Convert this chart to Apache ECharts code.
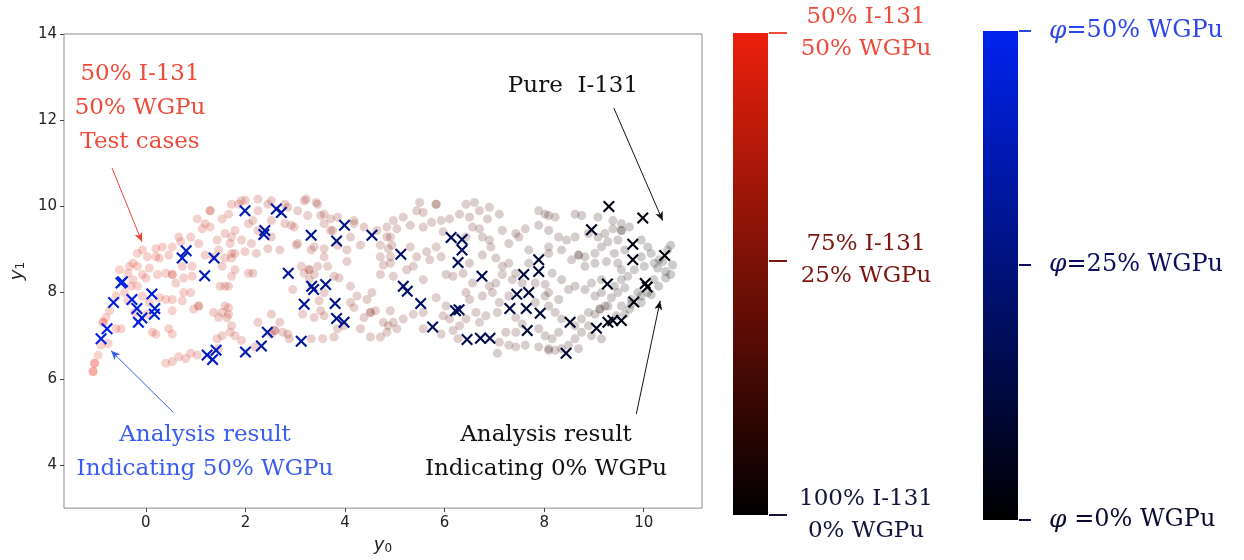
<!DOCTYPE html>
<html>
<head>
<meta charset="utf-8">
<script src="https://cdn.jsdelivr.net/npm/echarts@6/dist/echarts.min.js"></script>
<style>
  html, body { margin: 0; padding: 0; background: #fff; }
  #main { width: 1244px; height: 560px; }
</style>
</head>
<body>
<div id="main"></div>
<script>
// test cases [y0, y1], colour follows the I-131 / WGPu mix (red -> black)
var testCases = [
  [1.29,9.9],[1.29,9.9],[1.03,9.71],[1.13,9.48],[1.29,9.52],[1.53,9.71],[1.66,9.82],[1.59,9.37],[1.43,9.22],[1.72,9.29],
  [1.06,9.14],[0.9,9.29],[0.7,9.18],[0.53,9.06],[0.33,9.06],[0.2,9.02],[-0.07,8.99],[-0.17,8.91],[0.03,8.83],[0.27,8.8],
  [0.46,8.87],[0.53,8.42],[0.53,8.42],[0.4,8.45],[0.23,8.42],[0.07,8.57],[-0.07,8.42],[-0.17,8.61],[-0.33,8.61],[-0.36,8.45],
  [-0.53,8.53],[-0.26,8.3],[0.0,8.34],[-0.17,8.15],[-0.3,8.15],[-0.43,8.0],[-0.6,7.92],[-0.36,7.81],[-0.07,7.92],[0.07,7.77],
  [0.27,7.88],[0.4,7.84],[0.53,7.84],[0.73,7.81],[0.9,8.0],[0.76,8.0],[0.6,8.22],[0.76,8.34],[0.93,8.38],[0.93,8.61],
  [0.73,8.61],[-0.73,7.58],[-0.8,7.42],[-0.86,7.31],[-0.86,7.31],[-0.6,7.16],[-0.5,7.16],[-0.23,7.54],[0.03,7.5],[0.13,7.08],
  [0.2,7.04],[0.46,7.16],[0.53,7.04],[0.53,7.58],[0.96,7.62],[1.06,7.69],[1.06,7.69],[1.36,7.54],[1.53,7.54],[1.66,7.65],
  [1.46,7.42],[1.63,7.42],[1.72,7.23],[1.53,7.0],[1.43,6.93],[1.69,7.08],[1.66,8.15],[1.49,8.15],[1.72,8.38],[1.53,8.61],
  [1.59,8.8],[1.72,8.8],[1.36,8.83],[1.19,8.87],[0.9,6.59],[0.8,6.47],[0.66,6.51],[0.53,6.4],[0.4,6.36],[1.03,6.55],
  [1.46,6.7],[-1.03,6.36],[-1.03,6.36],[-1.06,6.17],[-1.06,6.17],[-0.96,6.55],[-0.9,6.78],[-0.76,6.82],
  [1.86,10.05],[2.0,10.14],[2.25,10.17],[2.52,10.13],[2.79,10.05],[3.22,10.17],[3.42,10.09],[3.05,9.9],[3.58,9.82],[3.85,9.75],
  [4.18,9.6],[2.98,9.52],[2.79,9.6],[2.06,9.6],[1.79,9.44],[1.19,9.6],[0.66,9.29],[0.2,8.83],[-0.26,8.68],[1.46,8.99],
  [1.79,8.91],[2.12,9.14],[2.25,9.44],[2.52,9.29],[3.05,9.14],[3.32,8.99],[3.58,8.83],[3.85,9.1],[4.11,9.29],[3.71,9.44],
  [3.18,10.13],[3.45,10.05],[1.72,10.05],[1.92,10.13],[2.45,10.05],[2.85,9.98],[2.25,9.9],[2.15,9.67],[2.52,9.67],[2.92,9.56],
  [3.25,9.79],[3.51,9.79],[3.58,9.6],[3.75,9.44],[3.71,9.71],[4.18,9.67],[4.38,9.52],[4.64,9.44],[4.84,9.52],[4.91,9.29],
  [4.71,9.1],[4.31,9.1],[4.04,8.99],[3.58,9.02],[3.38,9.06],[3.02,9.1],[2.69,8.99],[2.45,9.02],[2.22,8.91],[1.99,8.95],
  [1.72,8.91],[1.92,9.22],[1.69,9.14],[1.79,8.53],[2.06,8.45],[2.15,8.45],[1.59,8.15],[1.59,7.69],[1.66,7.5],[1.79,7.0],
  [1.92,6.89],[2.19,6.74],[2.25,7.31],[2.52,7.5],[2.69,7.31],[2.59,7.12],[2.59,7.12],[2.52,7.04],[2.75,7.08],[2.85,7.04],
  [2.88,6.93],[3.32,6.93],[3.55,6.93],[3.78,6.97],[3.85,7.16],[3.98,7.23],[2.95,8.07],[3.12,8.61],[3.18,8.45],[3.28,8.53],
  [3.28,8.53],[3.38,8.42],[3.28,8.3],[3.45,8.61],[3.65,8.61],[3.78,8.38],[3.88,8.34],[3.58,8.0],[3.48,7.81],[3.51,7.58],
  [3.38,7.42],[3.58,7.46],[3.15,7.5],[4.04,8.72],[4.11,8.15],[4.24,7.92],[4.11,7.77],[4.18,7.65],[4.44,7.84],[4.54,8.0],
  [4.51,7.54],[4.51,7.54],[4.61,7.58],[4.38,7.42],[4.77,7.31],[4.87,7.23],[4.51,6.97],[4.71,6.97],[4.31,7.16],[4.91,7.58],
  [4.71,8.42],[4.91,8.68],[4.77,8.64],[4.71,8.83],[4.91,8.83],
  [5.83,10.05],[5.83,10.05],[5.5,10.09],[5.57,9.86],[5.44,9.9],[6.43,10.05],[6.6,10.09],[6.7,9.9],[6.5,9.75],[6.3,9.82],
  [6.9,9.98],[7.1,9.82],[6.86,9.71],[6.1,9.71],[5.93,9.67],[5.74,9.63],[5.17,9.75],[4.97,9.67],[5.04,9.48],[5.31,9.56],
  [5.57,9.52],[5.97,9.41],[6.56,9.52],[6.7,9.48],[6.43,9.29],[6.76,9.29],[6.9,9.22],[7.16,9.44],[7.43,9.37],[7.62,9.48],
  [7.89,9.9],[8.09,9.79],[7.89,9.56],[7.49,9.29],[7.29,9.14],[4.84,9.29],[4.87,9.02],[4.94,9.1],[5.31,9.06],[5.44,8.83],
  [5.64,8.95],[5.83,9.06],[5.93,8.83],[5.7,8.76],[5.37,8.61],[5.24,8.53],[4.97,8.38],[5.57,8.3],[6.03,8.42],[6.17,8.38],
  [6.37,8.45],[6.5,8.68],[6.76,8.87],[6.93,9.06],[7.03,8.8],[7.16,8.61],[7.29,8.68],[7.16,8.42],[7.36,8.3],[7.03,8.22],
  [6.9,8.15],[6.56,8.22],[6.43,8.0],[6.5,7.84],[6.76,7.92],[6.96,8.0],[7.1,7.77],[7.06,7.54],[6.83,7.46],[6.63,7.54],
  [6.43,7.39],[6.3,7.23],[6.1,7.39],[5.83,7.88],[6.03,7.69],[5.97,7.46],[5.57,7.54],[5.37,7.5],[5.17,7.39],[4.97,7.31],
  [4.84,7.08],[5.04,7.16],[5.57,7.16],[5.93,7.04],[6.17,7.12],[6.7,7.31],[6.27,6.93],[7.1,6.85],[7.06,6.59],[7.29,6.78],
  [7.43,6.74],[7.62,6.78],[7.89,6.74],[8.09,6.66],[7.23,7.08],[7.43,7.08],[7.56,7.27],[7.89,7.16],[8.02,7.0],[7.43,7.42],
  [7.29,7.92],[7.43,8.45],[7.56,8.22],[7.82,8.22],[8.02,8.19],[8.02,7.92],[8.09,7.69],[7.82,7.77],[7.69,8.68],[8.09,8.91],
  [7.69,8.99],
  [8.02,9.82],[8.22,9.75],[8.62,9.82],[8.75,9.79],[9.08,9.75],[9.38,9.67],[9.55,9.6],[9.55,9.44],[9.55,9.44],[9.71,9.52],
  [9.38,9.48],[9.22,9.37],[9.48,9.22],[9.28,9.18],[9.08,9.29],[8.89,9.37],[8.62,9.29],[8.45,9.22],[8.29,9.29],[8.09,9.44],
  [8.09,9.06],[8.35,8.99],[8.69,8.87],[8.69,8.87],[8.82,8.83],[8.55,8.76],[8.82,8.61],[9.02,8.68],[9.15,9.06],[9.41,8.91],
  [9.62,8.99],[9.48,8.68],[9.95,9.22],[10.08,9.06],[10.15,8.91],[9.95,8.83],[10.01,8.61],[10.21,8.68],[10.31,8.76],[10.28,8.57],
  [10.44,8.49],[10.54,8.42],[10.58,8.64],[10.54,9.1],[10.48,8.99],[10.38,8.72],[10.44,8.34],[9.81,8.53],[9.68,8.38],[9.55,8.3],
  [9.41,8.15],[9.62,8.11],[9.48,8.0],[9.88,8.0],[9.95,7.92],[10.08,8.0],[9.95,7.77],[9.71,7.62],[9.55,7.69],[9.62,7.5],
  [9.45,7.46],[9.28,7.69],[9.35,7.88],[9.15,8.0],[9.02,7.92],[9.22,7.69],[9.12,7.62],[9.12,7.62],[9.02,7.5],[8.89,7.54],
  [8.75,7.39],[8.62,7.23],[8.89,7.23],[8.75,7.08],[8.95,7.0],[9.15,6.93],[8.62,6.93],[8.49,6.78],[8.69,6.7],[8.35,6.7],
  [8.22,6.66],[8.09,6.7],[8.16,6.93],[8.29,7.08],[8.35,7.39],[8.22,7.54],[8.29,7.84],[8.09,8.0],[8.49,8.07],[8.62,8.15],
  [8.82,8.07],[8.95,8.22],[8.35,8.3],[8.16,8.45],[9.02,8.91],[9.25,8.72],[9.15,8.3],[9.55,8.53],[9.75,7.84],[9.75,7.73],
  [10.2,8.3],[10.3,8.15],[10.15,7.95]
];

// analysis results [y0, y1], colour follows the estimated WGPu share (blue -> black)
var results = [
  [-0.9,6.93],[-0.78,7.16],[-0.65,7.77],[-0.5,8.22],[-0.47,8.25],[-0.28,7.84],[-0.18,7.63],[-0.15,7.31],[-0.08,7.41],[0.12,7.97],
  [0.18,7.63],[0.17,7.5],[0.73,8.8],[0.81,8.97],[1.18,8.39],[1.37,8.8],[1.99,9.9],[2.62,9.94],[2.72,9.86],[2.39,9.44],
  [2.37,9.35],[3.32,9.33],[3.99,9.56],[3.83,9.2],[4.54,9.33],[2.86,8.45],[3.18,7.73],[3.33,8.15],[3.37,8.07],[3.61,8.19],
  [3.8,7.75],[3.83,7.4],[3.98,7.31],[1.23,6.55],[1.34,6.45],[1.41,6.66],[2.0,6.62],[2.32,6.76],[2.44,7.08],[3.12,6.87],
  [5.12,8.89],[6.13,9.28],[6.35,9.23],[6.35,8.99],[6.27,8.7],[6.75,8.38],[5.17,8.15],[5.25,8.03],[5.52,7.75],[5.76,7.2],
  [6.22,7.58],[6.29,7.6],[6.45,6.91],[6.72,6.94],[6.91,6.94],[7.59,8.42],[7.89,8.76],[7.89,8.49],[7.45,7.96],[7.69,8.0],
  [7.31,7.63],[7.64,7.63],[7.92,7.52],[7.66,7.12],[9.3,10.0],[9.98,9.73],[8.95,9.46],[9.78,9.12],[9.78,8.76],[10.42,8.86],
  [9.27,8.2],[10.03,8.21],[10.07,8.13],[9.8,7.78],[8.52,7.31],[9.05,7.17],[9.28,7.31],[9.38,7.35],[9.55,7.35],[8.44,6.59]
];

var xTicks = [0, 2, 4, 6, 8, 10];
var yTicks = [4, 6, 8, 10, 12, 14];

// red colour bar (I-131 / WGPu mix), tick positions on a 0..50 bar scale
var mixTicks = [50, 26.4, 0];
var mixLabels = ['50% I-131\n50% WGPu', '75% I-131\n25% WGPu', '100% I-131\n0% WGPu'];
var mixColors = ['#ee4b3b', '#7a1510', '#14143c'];
var mixGradient = ['#ec200c', '#000000'];

// blue colour bar (WGPu share)
var phiTicks = [50, 26.1, 0];
var phiLabels = ['{p|φ}=50% WGPu', '{p|φ}=25% WGPu', '{p|φ} =0% WGPu'];
var phiColors = ['#2a45e8', '#0c0c5e', '#0a0a30'];
var phiGradient = ['#0022ee', '#000000'];

var serif = 'DejaVu Serif';

function barAxes(grid, ticks, labels, colors, tickLen, margin, align, size) {
  return ticks.map(function (v, i) {
    return {
      type: 'value', gridIndex: grid, min: 0, max: 50, position: 'right',
      axisLine: { show: false, onZero: false }, splitLine: { show: false },
      axisTick: { show: true, length: tickLen, customValues: [v], lineStyle: { color: colors[i], width: 2 } },
      axisLabel: {
        customValues: [v], margin: margin, align: align,
        formatter: function () { return labels[i]; },
        color: colors[i], fontFamily: serif, fontSize: size, lineHeight: 32,
        rich: { p: { fontStyle: 'italic', color: colors[i], fontFamily: serif, fontSize: size + 1 } }
      }
    };
  });
}

function barRect(x, y, w, h, stops) {
  return {
    type: 'rect', shape: { x: x, y: y, width: w, height: h }, z: 1,
    style: {
      fill: new echarts.graphic.LinearGradient(0, 0, 0, 1, [
        { offset: 0, color: stops[0] }, { offset: 1, color: stops[1] }
      ])
    }
  };
}

var xSym = 'path://M0,1.5L1.5,0L6,4.5L10.5,0L12,1.5L7.5,6L12,10.5L10.5,12L6,7.5L1.5,12L0,10.5L4.5,6Z';

var dom = document.getElementById('main');
var myChart = echarts.init(dom, null, { renderer: 'canvas' });

var nameRich = {
  i: { fontStyle: 'italic', fontFamily: 'DejaVu Sans', fontSize: 18, color: '#222' },
  s: { fontFamily: 'DejaVu Sans', fontSize: 12, color: '#222', padding: [8, 0, 0, 0] }
};

var option = {
  animation: false,
  grid: [
    { left: 57, right: 542, top: 34, bottom: 46, show: true, borderColor: '#8a8a8a', borderWidth: 1 },
    { left: 768, width: 1, top: 33, height: 482 },
    { left: 1018, width: 1, top: 31, height: 489 }
  ],
  xAxis: [
    {
      type: 'value', gridIndex: 0, min: -1.645, max: 11.17,
      axisLine: { show: false, onZero: false }, splitLine: { show: false },
      axisTick: { customValues: xTicks, length: 4, lineStyle: { color: '#444' } },
      axisLabel: { customValues: xTicks, margin: 8, color: '#222', fontFamily: 'DejaVu Sans', fontSize: 15 },
      name: '{i|y}{s|0}', nameLocation: 'middle', nameGap: 22,
      nameTextStyle: { rich: nameRich }
    },
    { type: 'value', gridIndex: 1, show: false },
    { type: 'value', gridIndex: 2, show: false }
  ],
  yAxis: [
    {
      type: 'value', gridIndex: 0, min: 3, max: 14,
      axisLine: { show: false, onZero: false }, splitLine: { show: false },
      axisTick: { customValues: yTicks, length: 4, lineStyle: { color: '#444' } },
      axisLabel: { customValues: yTicks, margin: 7, color: '#222', fontFamily: 'DejaVu Sans', fontSize: 15 },
      name: '{i|y}{s|1}', nameLocation: 'middle', nameGap: 30,
      nameTextStyle: { rich: nameRich }
    }
  ].concat(barAxes(1, mixTicks, mixLabels, mixColors, 18, 97, 'center', 23))
   .concat(barAxes(2, phiTicks, phiLabels, phiColors, 12, 30, 'left', 24)),
  visualMap: [
    {
      type: 'continuous', show: false, seriesIndex: 0, dimension: 0, min: -1.1, max: 10.6,
      inRange: { color: mixGradient }
    },
    {
      type: 'continuous', show: false, seriesIndex: 1, dimension: 0, min: -1.1, max: 10.6,
      inRange: { color: phiGradient }
    }
  ],
  series: [
    {
      type: 'scatter', xAxisIndex: 0, yAxisIndex: 0, data: testCases,
      symbolSize: 9, itemStyle: { opacity: 0.2 }, z: 2
    },
    {
      type: 'scatter', xAxisIndex: 0, yAxisIndex: 0, data: results,
      symbol: xSym, symbolSize: 12, itemStyle: { opacity: 1 }, z: 3
    },
    {
      type: 'scatter', xAxisIndex: 0, yAxisIndex: 0, data: [], z: 4,
      markLine: {
        silent: true, symbol: ['none', 'arrow'], symbolSize: [6, 9],
        label: { show: false },
        data: [
          [{ coord: [-0.68, 10.89], lineStyle: { color: '#ee4433', width: 1, type: 'solid' } }, { coord: [-0.08, 9.18] }],
          [{ coord: [9.4, 12.28], lineStyle: { color: '#111', width: 1, type: 'solid' } }, { coord: [10.38, 9.67] }],
          [{ coord: [0.55, 5.22], lineStyle: { color: '#3a5ce8', width: 1, type: 'solid' } }, { coord: [-0.7, 6.65] }],
          [{ coord: [9.85, 5.18], lineStyle: { color: '#111', width: 1, type: 'solid' } }, { coord: [10.33, 7.81] }]
        ]
      }
    }
  ],
  graphic: [
    barRect(733, 33, 35, 482, mixGradient),
    barRect(983, 31, 35, 489, phiGradient),
    { type: 'text', x: 140, y: 108, style: { text: '50% I-131\n50% WGPu\nTest cases', fill: '#ee4b3b', font: '23px "DejaVu Serif"', align: 'center', verticalAlign: 'middle', lineHeight: 34 } },
    { type: 'text', x: 573, y: 86, style: { text: 'Pure  I-131', fill: '#111', font: '23px "DejaVu Serif"', align: 'center', verticalAlign: 'middle' } },
    { type: 'text', x: 205, y: 452, style: { text: 'Analysis result\nIndicating 50% WGPu', fill: '#3a5cf0', font: '23px "DejaVu Serif"', align: 'center', verticalAlign: 'middle', lineHeight: 34 } },
    { type: 'text', x: 546, y: 452, style: { text: 'Analysis result\nIndicating 0% WGPu', fill: '#111', font: '23px "DejaVu Serif"', align: 'center', verticalAlign: 'middle', lineHeight: 34 } }
  ]
};

myChart.setOption(option);
</script>
</body>
</html>
